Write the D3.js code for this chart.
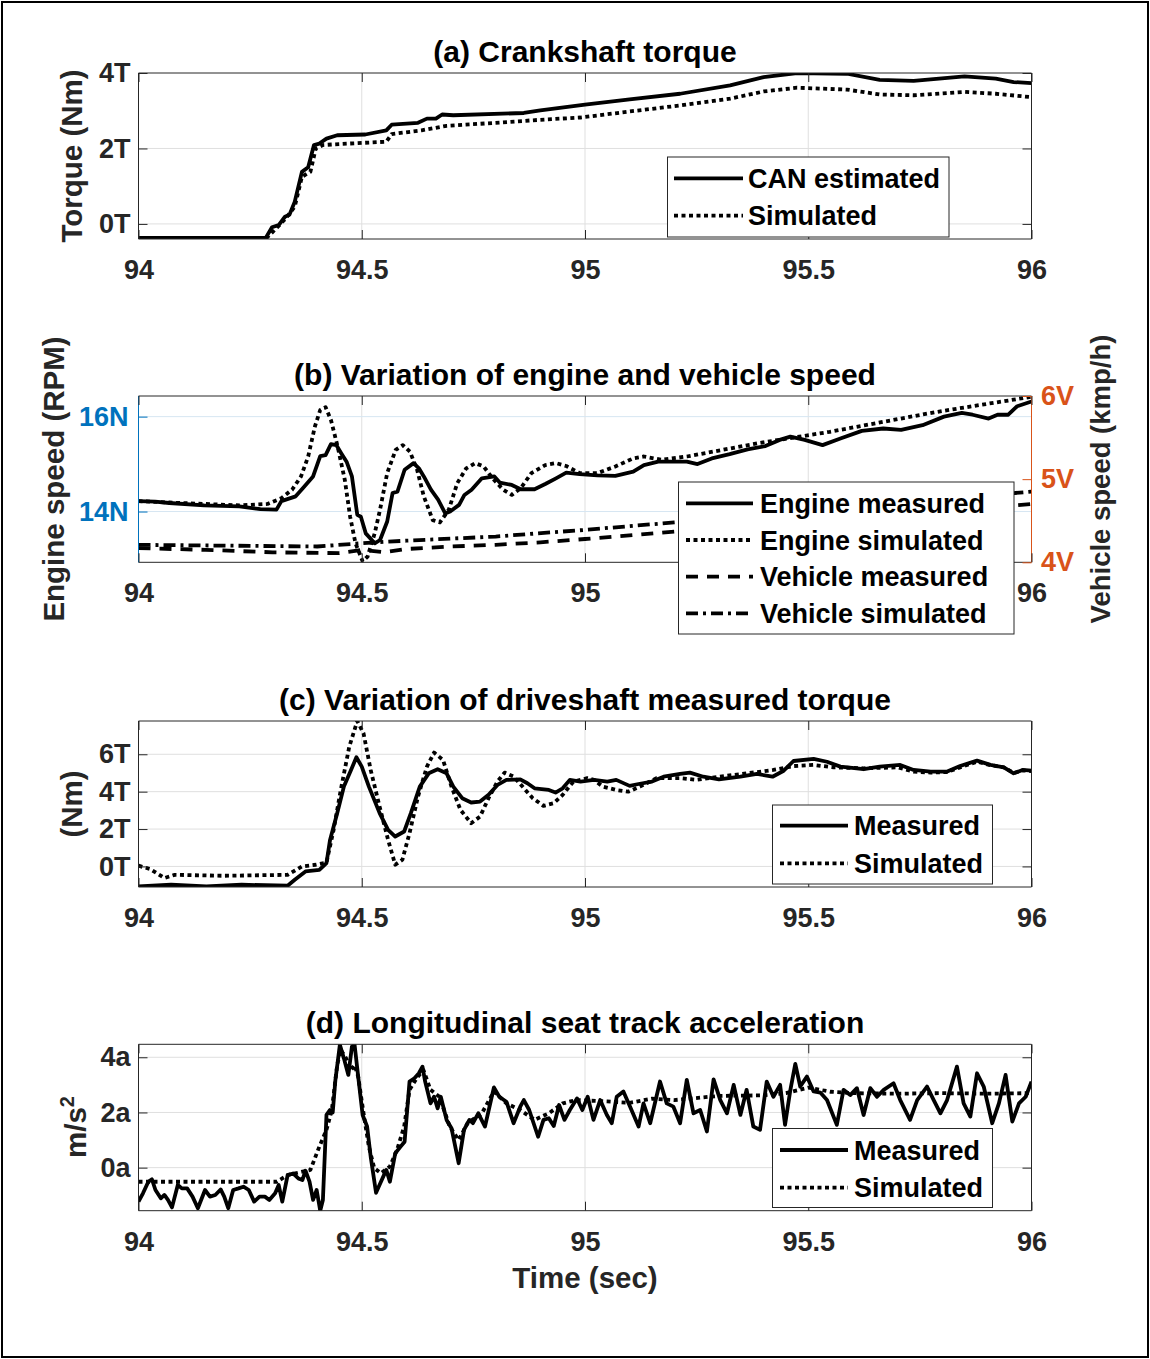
<!DOCTYPE html>
<html><head><meta charset="utf-8">
<script src="https://cdn.jsdelivr.net/npm/d3@7/dist/d3.min.js"></script>
<style>
body{margin:0;background:#fff}
text{font-family:"Liberation Sans",Arial,Helvetica,sans-serif;font-weight:bold}
</style>
</head><body><svg id="chart" width="1150" height="1359"></svg>
<script>
// ---------------- DATA ----------------
const xTicks = [94, 94.5, 95, 95.5, 96];
const xTickLabels = ["94", "94.5", "95", "95.5", "96"];

// (a) Crankshaft torque
const aTicks = [0, 2, 4];
const aTickLabels = ["0T", "2T", "4T"];
const canEstimated = [[94,-0.37],[94.285,-0.37],[94.299,-0.09],[94.314,-0.03],[94.328,0.19],[94.338,0.24],[94.35,0.59],[94.366,1.38],[94.38,1.5],[94.393,2.09],[94.405,2.13],[94.421,2.26],[94.445,2.35],[94.508,2.37],[94.555,2.48],[94.567,2.63],[94.626,2.68],[94.646,2.79],[94.666,2.79],[94.68,2.9],[94.705,2.88],[94.863,2.94],[94.9,3.01],[95.0,3.16],[95.1,3.3],[95.213,3.45],[95.325,3.67],[95.4,3.89],[95.475,4.0],[95.587,3.98],[95.66,3.82],[95.736,3.79],[95.85,3.91],[95.92,3.85],[95.96,3.76],[96,3.73]];
const aSimulated = [[94,-0.37],[94.287,-0.37],[94.31,-0.1],[94.33,0.15],[94.35,0.46],[94.366,1.25],[94.385,1.38],[94.397,2.0],[94.413,2.09],[94.44,2.11],[94.555,2.18],[94.567,2.38],[94.634,2.48],[94.69,2.6],[94.8,2.68],[94.9,2.76],[94.99,2.82],[95.1,2.98],[95.213,3.14],[95.325,3.32],[95.4,3.51],[95.475,3.61],[95.587,3.56],[95.66,3.43],[95.736,3.41],[95.85,3.5],[95.92,3.45],[96,3.36]];

// (b) Engine and vehicle speed
const bLeftTicks = [14, 16];
const bLeftTickLabels = ["14N", "16N"];
const bRightTicks = [4, 5, 6];
const bRightTickLabels = ["4V", "5V", "6V"];
const engineMeasured = [[94.0,14.22],[94.037,14.21],[94.069,14.18],[94.147,14.13],[94.226,14.11],[94.273,14.05],[94.309,14.04],[94.32,14.22],[94.352,14.32],[94.368,14.49],[94.391,14.74],[94.407,15.17],[94.419,15.19],[94.431,15.42],[94.443,15.4],[94.454,15.23],[94.466,15.05],[94.478,14.74],[94.49,13.93],[94.498,13.89],[94.509,13.54],[94.529,13.33],[94.541,13.4],[94.557,13.79],[94.569,14.39],[94.58,14.42],[94.596,14.88],[94.616,15.02],[94.628,14.91],[94.639,14.74],[94.655,14.46],[94.671,14.25],[94.687,13.96],[94.698,14.0],[94.718,14.14],[94.73,14.35],[94.746,14.46],[94.769,14.7],[94.797,14.74],[94.809,14.61],[94.836,14.56],[94.856,14.47],[94.887,14.47],[94.911,14.58],[94.935,14.7],[94.958,14.82],[94.988,14.79],[95.028,14.76],[95.068,14.75],[95.108,14.84],[95.132,14.98],[95.164,15.05],[95.228,15.05],[95.252,15.0],[95.284,15.12],[95.324,15.21],[95.364,15.31],[95.404,15.38],[95.436,15.51],[95.46,15.58],[95.492,15.51],[95.532,15.4],[95.572,15.54],[95.62,15.7],[95.668,15.75],[95.708,15.72],[95.756,15.82],[95.804,16.0],[95.844,16.08],[95.868,16.04],[95.904,15.96],[95.924,16.04],[95.948,16.04],[95.968,16.22],[96,16.32]];
const engineSimulated = [[94,14.22],[94.069,14.19],[94.147,14.16],[94.226,14.13],[94.289,14.16],[94.32,14.28],[94.344,14.46],[94.364,14.74],[94.38,15.16],[94.395,15.79],[94.407,16.14],[94.419,16.2],[94.431,15.93],[94.446,15.37],[94.462,14.67],[94.474,13.89],[94.486,13.33],[94.502,12.95],[94.513,13.05],[94.529,13.54],[94.541,14.04],[94.557,14.81],[94.576,15.3],[94.592,15.4],[94.608,15.26],[94.624,14.88],[94.639,14.32],[94.659,13.82],[94.675,13.77],[94.695,14.04],[94.714,14.6],[94.734,14.91],[94.754,15.02],[94.773,14.95],[94.793,14.7],[94.817,14.46],[94.836,14.35],[94.856,14.49],[94.88,14.81],[94.911,14.98],[94.935,15.02],[94.958,14.96],[94.988,14.81],[95.028,14.81],[95.068,14.95],[95.108,15.12],[95.132,15.16],[95.172,15.09],[95.228,15.16],[95.308,15.3],[95.388,15.44],[95.468,15.56],[95.548,15.68],[95.628,15.82],[95.708,15.96],[95.788,16.1],[95.868,16.22],[95.948,16.34],[96,16.42]];
const vehicleMeasured = [[94,4.17],[94.15,4.15],[94.3,4.12],[94.45,4.11],[94.5,4.15],[94.55,4.12],[94.6,4.16],[94.7,4.19],[94.8,4.21],[94.9,4.24],[95,4.28],[95.2,4.37],[95.4,4.45],[95.6,4.53],[95.8,4.61],[96,4.7]];
const vehicleSimulated = [[94,4.21],[94.2,4.2],[94.4,4.19],[94.5,4.23],[94.6,4.26],[94.8,4.31],[95,4.39],[95.2,4.48],[95.4,4.57],[95.6,4.67],[95.8,4.76],[96,4.85]];

// (c) Driveshaft torque
const cTicks = [0, 2, 4, 6];
const cTickLabels = ["0T", "2T", "4T", "6T"];
const cMeasured = [[94,-1.07],[94.073,-0.98],[94.152,-1.07],[94.231,-0.98],[94.334,-1.03],[94.35,-0.71],[94.374,-0.27],[94.405,-0.18],[94.421,0.18],[94.429,1.42],[94.445,2.85],[94.46,4.27],[94.476,5.16],[94.488,5.84],[94.5,5.34],[94.516,4.27],[94.54,2.85],[94.559,1.96],[94.575,1.6],[94.595,1.87],[94.61,2.85],[94.63,4.27],[94.65,4.98],[94.67,5.2],[94.69,4.98],[94.705,4.27],[94.725,3.65],[94.745,3.42],[94.765,3.47],[94.784,3.83],[94.804,4.36],[94.824,4.63],[94.855,4.66],[94.871,4.45],[94.887,4.18],[94.919,4.09],[94.934,3.95],[94.95,4.18],[94.966,4.63],[94.99,4.54],[95.02,4.63],[95.05,4.54],[95.07,4.63],[95.1,4.31],[95.12,4.41],[95.15,4.54],[95.176,4.8],[95.213,4.95],[95.235,5.02],[95.265,4.8],[95.3,4.66],[95.348,4.8],[95.385,4.95],[95.42,4.8],[95.445,5.12],[95.467,5.64],[95.512,5.75],[95.542,5.6],[95.572,5.34],[95.624,5.2],[95.66,5.34],[95.706,5.43],[95.736,5.16],[95.774,5.07],[95.81,5.07],[95.84,5.37],[95.878,5.66],[95.908,5.43],[95.938,5.3],[95.96,4.98],[95.98,5.16],[96,5.12]];
const cSimulated = [[94,0.04],[94.026,-0.14],[94.058,-0.62],[94.081,-0.45],[94.192,-0.5],[94.334,-0.45],[94.366,0.0],[94.397,0.09],[94.421,0.21],[94.437,1.96],[94.453,4.09],[94.472,6.4],[94.49,7.78],[94.504,7.12],[94.52,5.16],[94.54,3.2],[94.559,1.42],[94.575,0.09],[94.591,0.36],[94.607,1.78],[94.626,3.74],[94.646,5.34],[94.662,6.09],[94.682,5.7],[94.701,4.27],[94.721,3.03],[94.745,2.31],[94.765,2.67],[94.784,3.65],[94.804,4.54],[94.82,5.02],[94.84,4.81],[94.86,4.27],[94.883,3.65],[94.907,3.24],[94.93,3.38],[94.95,3.83],[94.974,4.54],[95.005,4.72],[95.02,4.63],[95.04,4.27],[95.07,4.09],[95.097,4.0],[95.123,4.27],[95.16,4.72],[95.213,4.72],[95.25,4.63],[95.3,4.8],[95.362,4.98],[95.422,5.16],[95.467,5.37],[95.512,5.43],[95.557,5.3],[95.624,5.25],[95.7,5.3],[95.736,5.07],[95.774,5.02],[95.81,5.05],[95.84,5.3],[95.878,5.6],[95.908,5.42],[95.938,5.3],[95.96,5.0],[95.98,5.14],[96,5.1]];

// (d) Seat track acceleration
const dTicks = [0, 2, 4];
const dTickLabels = ["0a", "2a", "4a"];
const dMeasured = [[94,-1.23],[94.01,-0.93],[94.022,-0.51],[94.03,-0.42],[94.038,-0.81],[94.05,-1.11],[94.058,-0.99],[94.066,-1.17],[94.075,-1.44],[94.088,-0.63],[94.097,-0.75],[94.109,-0.75],[94.121,-1.05],[94.133,-1.47],[94.149,-0.81],[94.16,-1.05],[94.172,-0.99],[94.184,-0.79],[94.192,-1.05],[94.201,-1.47],[94.212,-0.81],[94.224,-0.75],[94.235,-0.69],[94.247,-0.81],[94.259,-1.23],[94.271,-1.05],[94.283,-1.05],[94.293,-1.17],[94.306,-0.93],[94.314,-0.63],[94.322,-1.23],[94.334,-0.27],[94.346,-0.21],[94.358,-0.39],[94.367,-0.45],[94.374,-0.11],[94.383,-0.51],[94.391,-1.17],[94.399,-0.81],[94.407,-1.56],[94.413,-1.17],[94.421,1.91],[94.429,2.09],[94.435,2.0],[94.441,3.18],[94.451,4.45],[94.46,3.96],[94.47,3.36],[94.478,4.39],[94.484,4.45],[94.492,3.3],[94.502,1.91],[94.512,1.49],[94.52,0.4],[94.532,-0.91],[94.543,-0.51],[94.555,-0.08],[94.563,-0.51],[94.575,0.52],[94.587,0.76],[94.596,0.94],[94.607,3.12],[94.618,3.24],[94.628,3.42],[94.636,3.66],[94.642,3.12],[94.654,2.33],[94.662,2.57],[94.67,2.15],[94.677,2.57],[94.69,1.73],[94.701,1.43],[94.717,0.16],[94.729,1.37],[94.741,1.73],[94.749,1.61],[94.761,1.97],[94.776,1.49],[94.796,2.91],[94.808,2.57],[94.824,2.39],[94.84,1.61],[94.855,2.21],[94.863,2.45],[94.875,2.09],[94.895,1.12],[94.907,1.73],[94.919,1.79],[94.93,1.51],[94.942,2.27],[94.954,1.73],[94.966,2.09],[94.982,2.51],[94.994,2.09],[95.006,2.57],[95.019,1.73],[95.034,2.45],[95.049,1.91],[95.06,1.61],[95.071,2.57],[95.086,2.76],[95.101,2.21],[95.12,1.49],[95.131,2.33],[95.146,1.61],[95.168,3.12],[95.183,2.33],[95.198,2.21],[95.213,1.61],[95.228,3.18],[95.243,1.97],[95.258,2.09],[95.273,1.31],[95.288,3.2],[95.303,2.45],[95.318,1.97],[95.333,3.0],[95.348,1.91],[95.362,2.82],[95.377,1.49],[95.392,1.37],[95.407,3.12],[95.422,2.57],[95.437,3.0],[95.448,1.55],[95.46,2.82],[95.471,3.76],[95.482,2.94],[95.497,3.3],[95.512,2.76],[95.527,2.72],[95.542,2.45],[95.564,1.55],[95.579,2.82],[95.594,2.63],[95.609,2.88],[95.624,1.91],[95.639,2.88],[95.654,2.57],[95.669,2.82],[95.691,3.06],[95.706,2.45],[95.728,1.73],[95.744,2.45],[95.766,2.94],[95.781,2.45],[95.796,1.97],[95.811,2.45],[95.833,3.66],[95.848,2.33],[95.863,1.85],[95.878,3.42],[95.893,2.94],[95.912,1.61],[95.927,2.33],[95.942,3.36],[95.957,1.67],[95.972,2.33],[95.987,2.57],[96,3.12]];
const dSimulated = [[94,-0.51],[94.31,-0.51],[94.334,-0.27],[94.385,-0.08],[94.405,0.76],[94.421,1.37],[94.433,2.09],[94.445,3.72],[94.453,4.27],[94.465,3.96],[94.476,3.54],[94.484,3.72],[94.492,3.3],[94.504,1.97],[94.516,0.76],[94.528,-0.02],[94.543,-0.2],[94.563,0.04],[94.579,0.64],[94.595,1.49],[94.607,2.82],[94.623,3.24],[94.638,3.54],[94.654,2.82],[94.674,2.57],[94.697,1.49],[94.717,1.0],[94.737,1.61],[94.769,1.97],[94.796,2.76],[94.824,2.33],[94.855,2.09],[94.887,1.73],[94.919,1.97],[94.95,2.33],[94.98,2.45],[95.05,2.4],[95.1,2.35],[95.15,2.5],[95.2,2.45],[95.3,2.6],[95.4,2.62],[95.45,2.7],[95.5,2.9],[95.55,2.75],[95.6,2.7],[95.7,2.68],[95.8,2.7],[95.9,2.68],[96,2.7]];

// ---------------- DRAWING ----------------
const AX = "#262626", GRID = "#dfdfdf", BLUE = "#0072BD", ORANGE = "#D95319", BGRID = "#d6e6f2";
const DASH = {solid: null, dotted: "4,3.5", dashed: "12,9", dashdot: "12,5,3,5"};
const LW = 3.8;
const svg = d3.select("#chart");
svg.append("rect").attr("x", 2).attr("y", 2).attr("width", 1146).attr("height", 1355)
  .attr("fill", "#fff").attr("stroke", "#000").attr("stroke-width", 2);

const X0 = 138.5, X1 = 1031.5;
const x = d3.scaleLinear().domain([94, 96]).range([X0, X1]);

function styleAxis(g, color) {
  g.attr("font-size", 27).attr("font-family", null).attr("color", color);
  g.select(".domain").remove();
  g.selectAll(".tick line").attr("stroke-width", 1);
}

function drawPanel(p) {
  const {top, bottom} = p;
  const y = d3.scaleLinear().domain(p.yDomain).range([bottom, top]);
  const yR = p.yRDomain ? d3.scaleLinear().domain(p.yRDomain).range([bottom, top]) : null;
  const g = svg.append("g");
  g.append("rect").attr("x", X0).attr("y", top).attr("width", X1 - X0).attr("height", bottom - top).attr("fill", "#fff");
  g.selectAll(null).data(xTicks.filter(t => t > 94 && t < 96)).join("line")
    .attr("x1", d => x(d)).attr("x2", d => x(d)).attr("y1", top).attr("y2", bottom)
    .attr("stroke", GRID).attr("stroke-width", 1);
  g.selectAll(null).data(p.yTicks.filter(t => y(t) > top + 1 && y(t) < bottom - 1)).join("line")
    .attr("x1", X0).attr("x2", X1).attr("y1", d => y(d)).attr("y2", d => y(d))
    .attr("stroke", p.hGrid || GRID).attr("stroke-width", 1);

  const cid = "clip" + p.id;
  svg.append("clipPath").attr("id", cid).append("rect")
    .attr("x", X0).attr("y", top).attr("width", X1 - X0).attr("height", bottom - top);
  const lg = g.append("g").attr("clip-path", `url(#${cid})`);
  p.series.forEach(s => {
    const sc = s.right ? yR : y;
    const line = d3.line().x(d => x(d[0])).y(d => sc(d[1]));
    lg.append("path").attr("d", line(s.data)).attr("fill", "none").attr("stroke", "#000")
      .attr("stroke-width", LW).attr("stroke-dasharray", DASH[s.style]).attr("stroke-linejoin", "round");
  });

  // box
  g.append("line").attr("x1", X0).attr("x2", X1).attr("y1", top).attr("y2", top).attr("stroke", AX);
  g.append("line").attr("x1", X0).attr("x2", X1).attr("y1", bottom).attr("y2", bottom).attr("stroke", AX);
  g.append("line").attr("x1", X0).attr("x2", X0).attr("y1", top).attr("y2", bottom).attr("stroke", p.leftColor || AX);
  g.append("line").attr("x1", X1).attr("x2", X1).attr("y1", top).attr("y2", bottom).attr("stroke", p.rightColor || AX);

  // axes (labels hidden under the legend box are not drawn, as in the reference)
  const hidden = p.hiddenXLabels || [];
  const gb = g.append("g").attr("transform", `translate(0,${bottom})`)
    .call(d3.axisBottom(x).tickValues(xTicks).tickFormat((d, i) => hidden.includes(d) ? "" : xTickLabels[i]).tickSizeInner(-9).tickSizeOuter(0).tickPadding(21));
  styleAxis(gb, AX);
  const gt = g.append("g").attr("transform", `translate(0,${top})`)
    .call(d3.axisTop(x).tickValues(xTicks).tickFormat("").tickSizeInner(-9).tickSizeOuter(0));
  styleAxis(gt, AX);
  const gl = g.append("g").attr("transform", `translate(${X0},0)`)
    .call(d3.axisLeft(y).tickValues(p.yTicks).tickFormat((d, i) => p.yTickLabels[i]).tickSizeInner(-9).tickSizeOuter(0).tickPadding(p.leftPad || 8));
  styleAxis(gl, p.leftColor || AX);
  if (yR) {
    const gr = g.append("g").attr("transform", `translate(${X1},0)`)
      .call(d3.axisRight(yR).tickValues(p.yRTicks).tickFormat((d, i) => p.yRTickLabels[i]).tickSizeInner(-9).tickSizeOuter(0).tickPadding(9.5));
    styleAxis(gr, p.rightColor);
  } else {
    const gr = g.append("g").attr("transform", `translate(${X1},0)`)
      .call(d3.axisRight(y).tickValues(p.yTicks).tickFormat("").tickSizeInner(-9).tickSizeOuter(0));
    styleAxis(gr, AX);
  }

  // title
  svg.append("text").attr("x", 585).attr("y", top - 11.5).attr("text-anchor", "middle")
    .attr("font-size", 30).attr("fill", "#000").text(p.title);

  // legend
  const L = p.legend;
  svg.append("rect").attr("x", L.x).attr("y", L.y).attr("width", L.w).attr("height", L.h)
    .attr("fill", "#fff").attr("stroke", AX).attr("stroke-width", 1);
  p.series.forEach((s, i) => {
    const yy = L.rows[i];
    svg.append("line").attr("x1", L.lx0).attr("x2", L.lx1).attr("y1", yy).attr("y2", yy)
      .attr("stroke", "#000").attr("stroke-width", LW).attr("stroke-dasharray", DASH[s.style]);
    svg.append("text").attr("x", L.tx).attr("y", yy).attr("dy", "0.36em").attr("font-size", 27)
      .attr("fill", "#000").text(s.name);
  });
  return {y, yR};
}

function yLabel(text, xPos, yc, color, sup, size) {
  const t = svg.append("text").attr("transform", `translate(${xPos},${yc}) rotate(-90)`)
    .attr("text-anchor", "middle").attr("font-size", size || 29.5).attr("fill", color || AX);
  t.append("tspan").text(text);
  if (sup) t.append("tspan").attr("font-size", 20).attr("dy", -12).text(sup);
}

drawPanel({
  id: "a", top: 73, bottom: 239, yDomain: [-0.4, 4], yTicks: aTicks, yTickLabels: aTickLabels,
  title: "(a) Crankshaft torque",
  series: [
    {name: "CAN estimated", data: canEstimated, style: "solid"},
    {name: "Simulated", data: aSimulated, style: "dotted"}
  ],
  legend: {x: 667.5, y: 157, w: 281.5, h: 80, lx0: 674, lx1: 743, tx: 748, rows: [178.3, 215.7]}
});
yLabel("Torque (Nm)", 82, 156);

drawPanel({
  id: "b", top: 396, bottom: 562.3, yDomain: [12.93, 16.435], yTicks: bLeftTicks, yTickLabels: bLeftTickLabels,
  yRDomain: [4, 6], yRTicks: bRightTicks, yRTickLabels: bRightTickLabels,
  leftColor: BLUE, rightColor: ORANGE, hGrid: BGRID, leftPad: 10, hiddenXLabels: [95.5],
  title: "(b) Variation of engine and vehicle speed",
  series: [
    {name: "Engine measured", data: engineMeasured, style: "solid"},
    {name: "Engine simulated", data: engineSimulated, style: "dotted"},
    {name: "Vehicle measured", data: vehicleMeasured, style: "dashed", right: true},
    {name: "Vehicle simulated", data: vehicleSimulated, style: "dashdot", right: true}
  ],
  legend: {x: 678.5, y: 482, w: 335.5, h: 152, lx0: 686, lx1: 753, tx: 760, rows: [503.3, 540, 576.7, 613.3]}
});
yLabel("Engine speed (RPM)", 64, 479);
yLabel("Vehicle speed (kmp/h)", 1110, 479, AX, null, 27.5);

drawPanel({
  id: "c", top: 721, bottom: 887, yDomain: [-1.1, 7.78], yTicks: cTicks, yTickLabels: cTickLabels,
  title: "(c) Variation of driveshaft measured torque",
  series: [
    {name: "Measured", data: cMeasured, style: "solid"},
    {name: "Simulated", data: cSimulated, style: "dotted"}
  ],
  legend: {x: 772.5, y: 805, w: 220, h: 79, lx0: 780, lx1: 848, tx: 854, rows: [825.7, 863.3]}
});
yLabel("(Nm)", 82, 804);

drawPanel({
  id: "d", top: 1044.3, bottom: 1210.7, yDomain: [-1.56, 4.47], yTicks: dTicks, yTickLabels: dTickLabels,
  title: "(d) Longitudinal seat track acceleration",
  series: [
    {name: "Measured", data: dMeasured, style: "solid"},
    {name: "Simulated", data: dSimulated, style: "dotted"}
  ],
  legend: {x: 772.5, y: 1128.5, w: 220, h: 79, lx0: 780, lx1: 848, tx: 854, rows: [1150, 1187.7]}
});
yLabel("m/s", 86, 1127, AX, "2");

svg.append("text").attr("x", 585).attr("y", 1288).attr("text-anchor", "middle")
  .attr("font-size", 29.5).attr("fill", AX).text("Time (sec)");
</script></body></html>
